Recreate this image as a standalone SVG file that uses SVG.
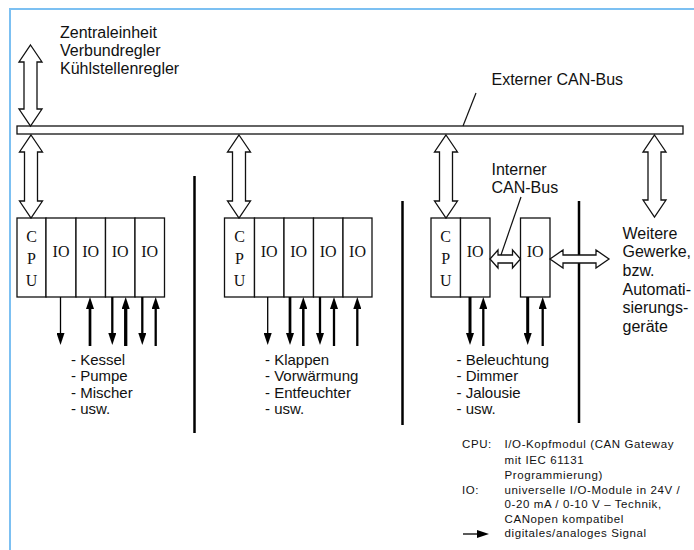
<svg xmlns="http://www.w3.org/2000/svg" width="694" height="550" viewBox="0 0 694 550">
<defs>
<style>
.t{font-family:"Liberation Sans",Arial,sans-serif;font-size:16px;fill:#111}
.l{font-family:"Liberation Sans",Arial,sans-serif;font-size:15px;fill:#111}
.g{font-family:"Liberation Sans",Arial,sans-serif;font-size:11.5px;letter-spacing:0.6px;fill:#111}
.s{font-family:"Liberation Serif","Times New Roman",serif;font-size:16px;fill:#111;text-anchor:middle}
.box{fill:#fff;stroke:#111;stroke-width:1.3}
.da{fill:#fff;stroke:#111;stroke-width:1.3;stroke-linejoin:miter}
.sig{stroke:#000;fill:none;marker-end:url(#ah)}
.div{stroke:#000;stroke-width:2.5}
.lead{stroke:#111;stroke-width:1.2}
.frame{stroke:#7cc0f2;stroke-width:2}
</style>
<marker id="ah" viewBox="0 0 12 8" refX="4" refY="4" markerWidth="12" markerHeight="8" markerUnits="userSpaceOnUse" orient="auto"><path d="M0,0 L12,4 L0,8 Z" fill="#000"/></marker>
</defs>
<rect x="0" y="0" width="694" height="550" fill="#fff"/>
<g id="frame">
<line class="frame" x1="9" y1="9" x2="694" y2="9"/>
<line class="frame" x1="10" y1="8" x2="10" y2="550"/>
</g>
<g id="bus">
<rect class="box" x="17" y="126" width="666" height="8"/>
<text class="t" x="491.5" y="85">Externer CAN-Bus</text>
</g>
<g id="zentrale">
<text class="t" x="60" y="37.5">Zentraleinheit</text>
<text class="t" x="60" y="55.5">Verbundregler</text>
<text class="t" x="60" y="74">Kühlstellenregler</text>
</g>
<g id="module1">
<rect class="box" x="17" y="218" width="29" height="79"/>
<rect class="box" x="46" y="218" width="30" height="79"/>
<rect class="box" x="76" y="218" width="29.5" height="79"/>
<rect class="box" x="105.5" y="218" width="29.5" height="79"/>
<rect class="box" x="135" y="218" width="29.5" height="79"/>
<text class="s" x="31.5" y="242">C</text>
<text class="s" x="31.5" y="264">P</text>
<text class="s" x="31.5" y="285.5">U</text>
<text class="s" x="61" y="256.5">IO</text>
<text class="s" x="90.7" y="256.5">IO</text>
<text class="s" x="120.2" y="256.5">IO</text>
<text class="s" x="149.7" y="256.5">IO</text>
<text class="l" x="71" y="364.5">- Kessel</text>
<text class="l" x="71" y="381">- Pumpe</text>
<text class="l" x="71" y="397.5">- Mischer</text>
<text class="l" x="71" y="414">- usw.</text>
</g>
<g id="module2">
<rect class="box" x="224.5" y="218" width="30" height="79"/>
<rect class="box" x="254.5" y="218" width="29.5" height="79"/>
<rect class="box" x="284" y="218" width="29.5" height="79"/>
<rect class="box" x="313.5" y="218" width="29.5" height="79"/>
<rect class="box" x="343" y="218" width="29" height="79"/>
<text class="s" x="239.5" y="242">C</text>
<text class="s" x="239.5" y="264">P</text>
<text class="s" x="239.5" y="285.5">U</text>
<text class="s" x="269.2" y="256.5">IO</text>
<text class="s" x="298.7" y="256.5">IO</text>
<text class="s" x="328.2" y="256.5">IO</text>
<text class="s" x="357.5" y="256.5">IO</text>
<text class="l" x="265" y="364.5">- Klappen</text>
<text class="l" x="265" y="381">- Vorwärmung</text>
<text class="l" x="265" y="397.5">- Entfeuchter</text>
<text class="l" x="265" y="414">- usw.</text>
</g>
<g id="module3">
<rect class="box" x="431" y="218" width="29.5" height="79"/>
<rect class="box" x="460.5" y="218" width="29.5" height="79"/>
<text class="s" x="445.7" y="242">C</text>
<text class="s" x="445.7" y="264">P</text>
<text class="s" x="445.7" y="285.5">U</text>
<text class="s" x="475.2" y="256.5">IO</text>
<text class="l" x="456.5" y="364.5">- Beleuchtung</text>
<text class="l" x="456.5" y="381">- Dimmer</text>
<text class="l" x="456.5" y="397.5">- Jalousie</text>
<text class="l" x="456.5" y="414">- usw.</text>
</g>
<g id="module3b">
<rect class="box" x="520.5" y="218" width="29.5" height="79"/>
<text class="s" x="535.2" y="256.5">IO</text>
</g>
<g id="interner-label">
<text class="t" x="491.5" y="175">Interner</text>
<text class="t" x="491.5" y="193">CAN-Bus</text>
</g>
<g id="weitere">
<text class="t" x="622.5" y="238.5">Weitere</text>
<text class="t" x="622.5" y="257.2">Gewerke,</text>
<text class="t" x="622.5" y="275.9">bzw.</text>
<text class="t" x="622.5" y="294.6">Automati-</text>
<text class="t" x="622.5" y="313.3">sierungs-</text>
<text class="t" x="622.5" y="332">geräte</text>
</g>
<g id="dividers">
<line class="div" x1="194.5" y1="176" x2="194.5" y2="433"/>
<line class="div" x1="402.5" y1="201" x2="402.5" y2="425"/>
<line class="div" x1="579" y1="201" x2="579" y2="423"/>
</g>
<g id="connectors">
<path class="da" d="M30.5,45 L42,62 L37,62 L37,109 L42,109 L30.5,126 L19,109 L24,109 L24,62 L19,62 Z"/>
<path class="da" d="M31,135 L42.5,152 L37.5,152 L37.5,201 L42.5,201 L31,218 L19.5,201 L24.5,201 L24.5,152 L19.5,152 Z"/>
<path class="da" d="M239,135 L250.5,152 L245.5,152 L245.5,201 L250.5,201 L239,218 L227.5,201 L232.5,201 L232.5,152 L227.5,152 Z"/>
<path class="da" d="M446,135 L457.5,152 L452.5,152 L452.5,201 L457.5,201 L446,218 L434.5,201 L439.5,201 L439.5,152 L434.5,152 Z"/>
<path class="da" d="M654.5,135 L666,152 L661,152 L661,200 L666,200 L654.5,217 L643,200 L648,200 L648,152 L643,152 Z"/>
<path class="da" d="M490,259 L498,250 L498,255 L512.5,255 L512.5,250 L520.5,259 L512.5,268 L512.5,263 L498,263 L498,268 Z"/>
<path class="da" d="M550,259 L563,250 L563,255 L596,255 L596,250 L609,259 L596,268 L596,263 L563,263 L563,268 Z"/>
<line class="lead" x1="476" y1="93" x2="463" y2="126"/>
<line class="lead" x1="521" y1="197" x2="501" y2="255"/>
<line class="sig" stroke-width="1.3" x1="60.5" y1="297" x2="60.5" y2="337"/>
<line class="sig" stroke-width="2.7" x1="90" y1="346" x2="90" y2="305"/>
<line class="sig" stroke-width="2.3" x1="112.3" y1="297" x2="112.3" y2="337"/>
<line class="sig" stroke-width="3.3" x1="125.7" y1="346" x2="125.7" y2="305"/>
<line class="sig" stroke-width="2.3" x1="142.3" y1="297" x2="142.3" y2="337"/>
<line class="sig" stroke-width="2.3" x1="155.7" y1="346" x2="155.7" y2="305"/>
<line class="sig" stroke-width="1.3" x1="267.7" y1="297" x2="267.7" y2="337"/>
<line class="sig" stroke-width="2.7" x1="290" y1="297" x2="290" y2="337"/>
<line class="sig" stroke-width="2.5" x1="303.3" y1="346" x2="303.3" y2="305"/>
<line class="sig" stroke-width="2.3" x1="320" y1="297" x2="320" y2="337"/>
<line class="sig" stroke-width="2.3" x1="334" y1="346" x2="334" y2="305"/>
<line class="sig" stroke-width="2.3" x1="357.3" y1="346" x2="357.3" y2="305"/>
<line class="sig" stroke-width="3" x1="470" y1="297" x2="470" y2="337"/>
<line class="sig" stroke-width="2.3" x1="483.3" y1="346" x2="483.3" y2="305"/>
<line class="sig" stroke-width="3" x1="527.7" y1="297" x2="527.7" y2="337"/>
<line class="sig" stroke-width="2.3" x1="542.7" y1="346" x2="542.7" y2="305"/>
</g>
<g id="legend">
<text class="g" x="462" y="448">CPU:</text>
<text class="g" x="504.5" y="448">I/O-Kopfmodul (CAN Gateway</text>
<text class="g" x="504.5" y="463.5">mit IEC 61131</text>
<text class="g" x="504.5" y="479">Programmierung)</text>
<text class="g" x="462" y="493.5">IO:</text>
<text class="g" x="504.5" y="493.5">universelle I/O-Module in 24V /</text>
<text class="g" x="504.5" y="508">0-20 mA / 0-10 V – Technik,</text>
<text class="g" x="504.5" y="522.5">CANopen kompatibel</text>
<line class="sig" stroke-width="1.3" x1="463" y1="534" x2="481" y2="534"/>
<text class="g" x="504.5" y="537">digitales/analoges Signal</text>
</g>
</svg>
